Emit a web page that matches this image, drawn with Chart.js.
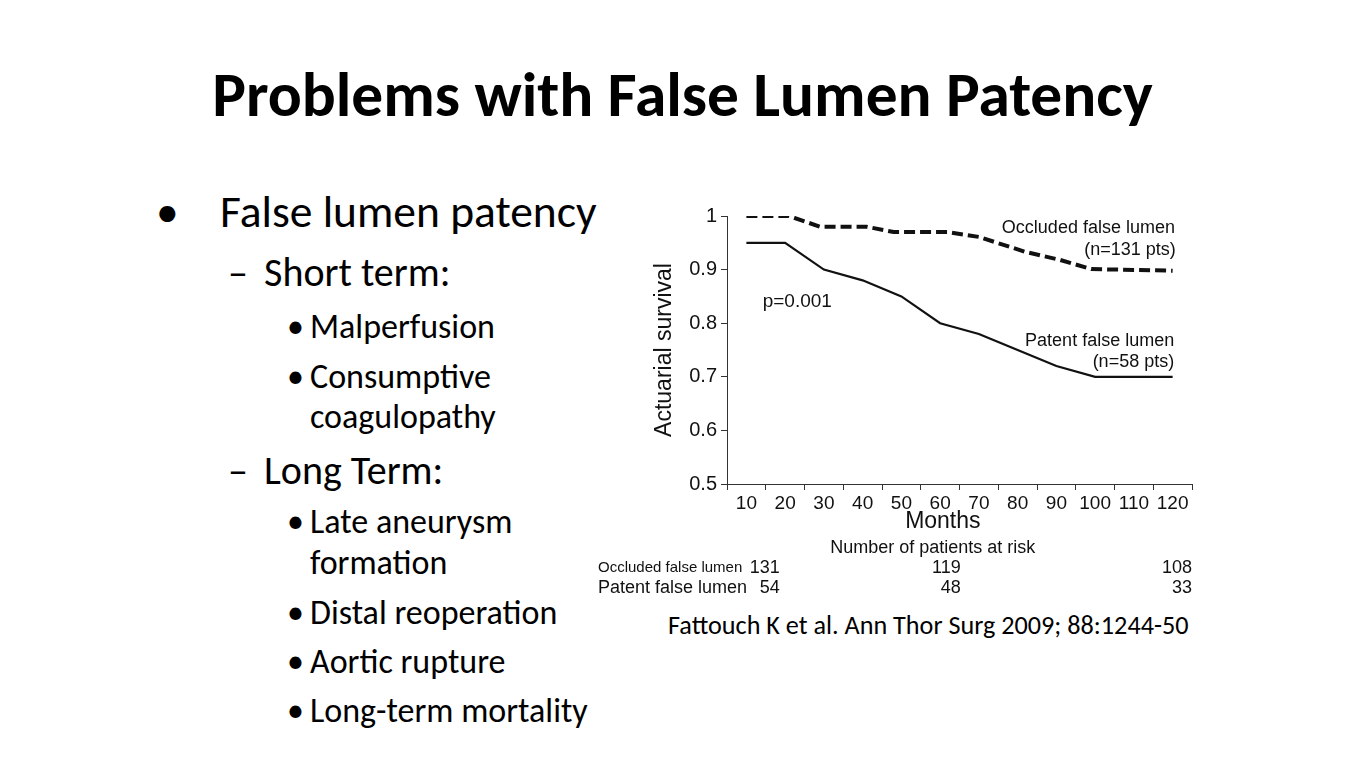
<!DOCTYPE html>
<html>
<head>
<meta charset="utf-8">
<title>Problems with False Lumen Patency</title>
<script src="https://cdn.jsdelivr.net/npm/chart.js@4.4.1/dist/chart.umd.min.js"></script>
<style>
  html, body { margin: 0; padding: 0; background: #fff; }
  .slide { position: relative; width: 1365px; height: 768px; overflow: hidden; font-family: Calibri, Carlito, Lato, sans-serif; color: #000; }
  .t { position: absolute; white-space: nowrap; line-height: 1; }
  .title { left: 0; width: 1365px; text-align: center; font-weight: bold; font-size: 63.4px; top: 63px; }
  .l1 { font-size: 45.5px; }
  .l2 { font-size: 40px; }
  .l3 { font-size: 34px; }
  .cite { font-size: 26.2px; }
  #chartBox { position: absolute; left: 590px; top: 200px; width: 615px; height: 405px; }
</style>
</head>
<body>
<div class="slide">
  <div class="t title">Problems with False Lumen Patency</div>

  <div class="t l1" style="left:156px; top:189px;">•</div>
  <div class="t l1" style="left:220px; top:189px;">False lumen patency</div>

  <div class="t l2" style="left:228px; top:253px;">–</div>
  <div class="t l2" style="left:264px; top:253px;">Short term:</div>

  <div class="t l3" style="left:287px; top:310px;">•</div>
  <div class="t l3" style="left:310px; top:310px;">Malperfusion</div>
  <div class="t l3" style="left:287px; top:360px;">•</div>
  <div class="t l3" style="left:310px; top:360px;">Consumptive</div>
  <div class="t l3" style="left:310px; top:400px;">coagulopathy</div>

  <div class="t l2" style="left:228px; top:451px;">–</div>
  <div class="t l2" style="left:264px; top:451px;">Long Term:</div>

  <div class="t l3" style="left:287px; top:505px;">•</div>
  <div class="t l3" style="left:310px; top:505px;">Late aneurysm</div>
  <div class="t l3" style="left:310px; top:546px;">formation</div>
  <div class="t l3" style="left:287px; top:596px;">•</div>
  <div class="t l3" style="left:310px; top:596px;">Distal reoperation</div>
  <div class="t l3" style="left:287px; top:645px;">•</div>
  <div class="t l3" style="left:310px; top:645px;">Aortic rupture</div>
  <div class="t l3" style="left:287px; top:694px;">•</div>
  <div class="t l3" style="left:310px; top:694px;">Long-term mortality</div>

  <div id="chartBox"><canvas id="survivalChart"></canvas></div>

  <div class="t cite" style="left:668px; top:612px;">Fattouch K et al. Ann Thor Surg 2009; 88:1244-50</div>
</div>

<script>
// eixos
const monthTicks = [10, 20, 30, 40, 50, 60, 70, 80, 90, 100, 110, 120];
const survivalTicks = [0.5, 0.6, 0.7, 0.8, 0.9, 1];

// curva do falso lumen ocluido (tracejada)
const occludedMonths = [10, 21, 29, 41, 48, 62, 70, 82, 91, 99, 120];
const occludedSurvival = [1.0, 1.0, 0.98, 0.98, 0.97, 0.97, 0.961, 0.933, 0.918, 0.901, 0.898];

// curva do falso lumen patente (continua)
const patentMonths = [10, 20, 30, 40, 50, 60, 70, 80, 90, 100, 110, 120];
const patentSurvival = [0.95, 0.95, 0.90, 0.88, 0.85, 0.80, 0.78, 0.75, 0.72, 0.70, 0.70, 0.70];

// pacientes em risco
const riskLabels = ['Occluded false lumen', 'Patent false lumen'];
const occludedAtRisk = [131, 119, 108];
const patentAtRisk = [54, 48, 33];

const chartFont = '"Liberation Sans", Arial, sans-serif';
const ink = '#111';

function toPoints(xs, ys) {
    return xs.map(function (x, i) { return { x: x, y: ys[i] }; });
}

// textos extras do grafico (rotulos das curvas, p-valor, tabela de risco)
const chartText = {
    id: 'chartText',
    afterDraw(chart) {
        const ctx = chart.ctx;
        const x = chart.scales.x;
        const y = chart.scales.y;
        const bottom = chart.chartArea.bottom;
        ctx.save();
        ctx.fillStyle = ink;
        ctx.textBaseline = 'middle';

        ctx.font = '18px ' + chartFont;
        ctx.textAlign = 'right';
        ctx.fillText('Occluded false lumen', x.getPixelForValue(120.6), y.getPixelForValue(0.978));
        ctx.fillText('(n=131 pts)', x.getPixelForValue(120.8), y.getPixelForValue(0.937));
        ctx.fillText('Patent false lumen', x.getPixelForValue(120.4), y.getPixelForValue(0.766));
        ctx.fillText('(n=58 pts)', x.getPixelForValue(120.4), y.getPixelForValue(0.727));

        ctx.font = '19px ' + chartFont;
        ctx.textAlign = 'left';
        ctx.fillText('p=0.001', x.getPixelForValue(14.2), y.getPixelForValue(0.84));

        ctx.textAlign = 'center';
        ctx.font = '23px ' + chartFont;
        ctx.fillText('Months', x.getPixelForValue(60.7), bottom + 38);
        ctx.font = '18px ' + chartFont;
        ctx.fillText('Number of patients at risk', x.getPixelForValue(58.1), bottom + 64);

        // tabela
        const cols = [18.6, 65.3, 125];
        const rows = [occludedAtRisk, patentAtRisk];
        const rowY = [bottom + 84, bottom + 104];
        ctx.textAlign = 'left';
        ctx.font = '15px ' + chartFont;
        ctx.fillText(riskLabels[0], 8, rowY[0]);
        ctx.font = '18px ' + chartFont;
        ctx.fillText(riskLabels[1], 8, rowY[1]);
        ctx.textAlign = 'right';
        rows.forEach(function (row, r) {
            row.forEach(function (n, i) {
                ctx.fillText(String(n), x.getPixelForValue(cols[i]), rowY[r]);
            });
        });
        ctx.restore();
    }
};

const ctx = document.getElementById('survivalChart').getContext('2d');
new Chart(ctx, {
    type: 'line',
    data: {
        datasets: [{
            label: 'Occluded false lumen',
            data: toPoints(occludedMonths, occludedSurvival),
            borderColor: ink,
            borderWidth: 4,
            borderDash: [11, 5],
            pointRadius: 0,
            tension: 0,
            fill: false
        }, {
            label: 'Patent false lumen',
            data: toPoints(patentMonths, patentSurvival),
            borderColor: ink,
            borderWidth: 2.2,
            pointRadius: 0,
            tension: 0,
            fill: false
        }]
    },
    options: {
        responsive: true,
        maintainAspectRatio: false,
        animation: false,
        layout: { padding: { top: 14, right: 13, left: 0, bottom: 0 } },
        plugins: {
            legend: { display: false },
            tooltip: { enabled: false }
        },
        scales: {
            x: {
                type: 'linear',
                min: 5,
                max: 125,
                afterBuildTicks: function (scale) {
                    scale.ticks = monthTicks.map(function (v) { return { value: v }; });
                },
                afterFit: function (scale) { scale.height = 121; },
                grid: {
                    offset: true,
                    drawOnChartArea: false,
                    drawTicks: true,
                    tickLength: 6,
                    color: '#333'
                },
                border: { color: '#333', width: 1 },
                ticks: {
                    color: ink,
                    padding: 2,
                    maxRotation: 0,
                    autoSkip: false,
                    font: { family: chartFont, size: 19 },
                    callback: function (v) { return String(v); }
                }
            },
            y: {
                min: 0.5,
                max: 1,
                afterBuildTicks: function (scale) {
                    scale.ticks = survivalTicks.map(function (v) { return { value: v }; });
                },
                afterFit: function (scale) { scale.width = 137; },
                grid: {
                    drawOnChartArea: false,
                    drawTicks: true,
                    tickLength: 6,
                    color: '#333'
                },
                border: { color: '#333', width: 1 },
                title: {
                    display: true,
                    text: 'Actuarial survival',
                    color: ink,
                    font: { family: chartFont, size: 23 },
                    padding: { top: 61, bottom: 0 }
                },
                ticks: {
                    color: ink,
                    padding: 4,
                    font: { family: chartFont, size: 20 },
                    callback: function (v) { return String(v); }
                }
            }
        }
    },
    plugins: [chartText]
});
</script>
</body>
</html>
